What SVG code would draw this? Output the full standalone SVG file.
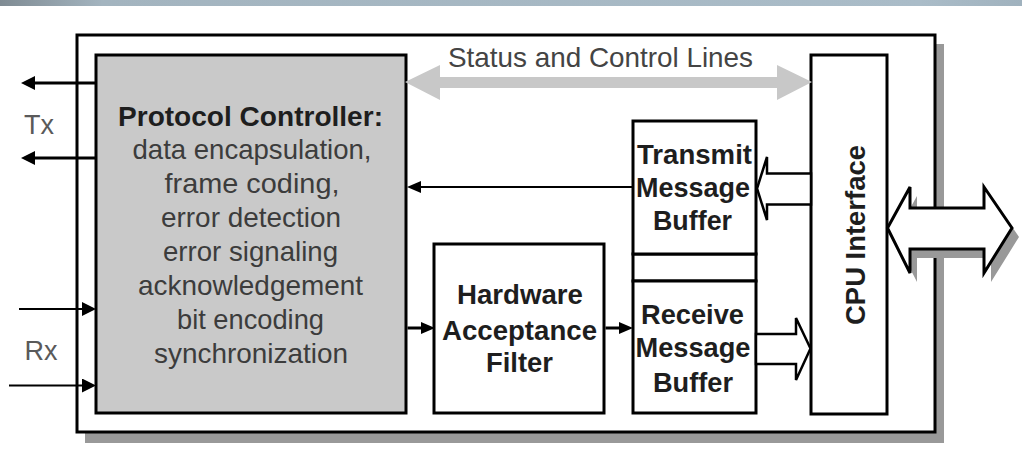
<svg xmlns="http://www.w3.org/2000/svg" width="1022" height="469" viewBox="0 0 1022 469">
  <defs>
    <linearGradient id="topbar" x1="0" y1="0" x2="1" y2="0">
      <stop offset="0" stop-color="#7f8b93"/>
      <stop offset="0.1" stop-color="#a3b4bf"/>
      <stop offset="0.9" stop-color="#aabcc8"/>
      <stop offset="1" stop-color="#a0b2be"/>
    </linearGradient>
    <marker id="headL" markerUnits="userSpaceOnUse" markerWidth="14" markerHeight="14" viewBox="0 0 14 14" refX="0" refY="7" orient="auto">
      <path d="M0,0 L14,7 L0,14 z" fill="#000"/>
    </marker>
    <marker id="headS" markerUnits="userSpaceOnUse" markerWidth="14" markerHeight="12" viewBox="0 0 14 12" refX="0" refY="6" orient="auto">
      <path d="M0,0 L14,6 L0,12 z" fill="#000"/>
    </marker>
    <style>
      .box { fill: #fff; stroke: #000; stroke-width: 3; }
      .pc { fill: #c9c9c9; stroke: #000; stroke-width: 3; }
      .shadow { fill: #999; }
      .hollow { fill: #fff; stroke: #000; stroke-width: 2.5; stroke-linejoin: miter; }
      .thick { stroke: #000; stroke-width: 3; fill: none; }
      .thin { stroke: #000; stroke-width: 2; fill: none; }
      .b { font-family: "Liberation Sans", Arial, sans-serif; font-weight: bold; font-size: 28px; fill: #1e1e1e; text-anchor: middle; }
      .r { font-family: "Liberation Sans", Arial, sans-serif; font-size: 28px; fill: #3c3c3c; text-anchor: middle; }
      .lbl { font-family: "Liberation Sans", Arial, sans-serif; font-size: 27px; fill: #5a5a5a; text-anchor: middle; }
    </style>
  </defs>

  <rect x="0" y="0" width="1022" height="6" fill="url(#topbar)"/>

  <g id="outer-frame">
    <rect x="85" y="44" width="859" height="399" class="shadow"/>
    <rect x="77" y="35" width="858" height="397" class="box"/>
  </g>

  <g id="protocol-controller">
    <rect x="96" y="55" width="310" height="358" class="pc"/>
    <text class="b" x="250.5" y="126" textLength="265" lengthAdjust="spacingAndGlyphs">Protocol Controller:</text>
    <text class="r" x="252" y="159" textLength="239" lengthAdjust="spacingAndGlyphs">data encapsulation,</text>
    <text class="r" x="252" y="193" textLength="175" lengthAdjust="spacingAndGlyphs">frame coding,</text>
    <text class="r" x="251" y="227" textLength="180" lengthAdjust="spacingAndGlyphs">error detection</text>
    <text class="r" x="250.5" y="261" textLength="175" lengthAdjust="spacingAndGlyphs">error signaling</text>
    <text class="r" x="250.5" y="295" textLength="225" lengthAdjust="spacingAndGlyphs">acknowledgement</text>
    <text class="r" x="250.5" y="329" textLength="147" lengthAdjust="spacingAndGlyphs">bit encoding</text>
    <text class="r" x="251" y="363" textLength="194" lengthAdjust="spacingAndGlyphs">synchronization</text>
  </g>

  <g id="hardware-acceptance-filter">
    <rect x="434" y="244" width="170" height="169" class="box"/>
    <text class="b" x="520" y="304" textLength="126" lengthAdjust="spacingAndGlyphs">Hardware</text>
    <text class="b" x="519.5" y="340" textLength="155" lengthAdjust="spacingAndGlyphs">Acceptance</text>
    <text class="b" x="519.5" y="372" textLength="67" lengthAdjust="spacingAndGlyphs">Filter</text>
  </g>

  <g id="buffer-spacer">
    <rect x="633" y="254" width="123" height="27" class="box"/>
  </g>

  <g id="transmit-message-buffer">
    <rect x="633" y="121" width="123" height="133" class="box"/>
    <text class="b" x="694.5" y="164" textLength="115" lengthAdjust="spacingAndGlyphs">Transmit</text>
    <text class="b" x="693" y="197" textLength="114" lengthAdjust="spacingAndGlyphs">Message</text>
    <text class="b" x="692.5" y="230" textLength="79" lengthAdjust="spacingAndGlyphs">Buffer</text>
  </g>

  <g id="receive-message-buffer">
    <rect x="633" y="281" width="123" height="132" class="box"/>
    <text class="b" x="692.5" y="324" textLength="103" lengthAdjust="spacingAndGlyphs">Receive</text>
    <text class="b" x="693" y="357" textLength="115" lengthAdjust="spacingAndGlyphs">Message</text>
    <text class="b" x="693" y="392" textLength="80" lengthAdjust="spacingAndGlyphs">Buffer</text>
  </g>

  <g id="cpu-interface">
    <rect x="811" y="55" width="76" height="359" class="box"/>
    <text class="b" transform="translate(865,235) rotate(-90)" x="0" y="0" textLength="180" lengthAdjust="spacingAndGlyphs">CPU Interface</text>
  </g>

  <g id="labels">
    <text class="lbl" x="39" y="134">Tx</text>
    <text class="lbl" x="41" y="360">Rx</text>
  </g>

  <g id="connectors">
    <!-- Tx outputs -->
    <line x1="96" y1="83" x2="35" y2="83" class="thick" marker-end="url(#headL)"/>
    <line x1="96" y1="158" x2="35" y2="158" class="thick" marker-end="url(#headL)"/>
    <!-- Rx inputs -->
    <line x1="19" y1="309" x2="82" y2="309" class="thin" marker-end="url(#headL)"/>
    <line x1="9" y1="385.5" x2="82" y2="385.5" class="thin" marker-end="url(#headL)"/>
    <!-- Protocol -> HAF -> Receive -->
    <line x1="407.5" y1="328" x2="421" y2="328" class="thick" marker-end="url(#headS)"/>
    <line x1="605.5" y1="328" x2="619" y2="328" class="thick" marker-end="url(#headS)"/>
    <!-- Transmit buffer -> Protocol -->
    <line x1="633" y1="187" x2="421" y2="187" class="thin" marker-end="url(#headS)"/>

    <!-- Status and Control Lines -->
    <g id="status-control-lines">
      <polygon points="405,82 440,65 440,77 777,77 777,65 812,82 777,100 777,88 440,88 440,100" fill="#c8c8c8"/>
      <text class="r" x="600.5" y="67" textLength="305" lengthAdjust="spacingAndGlyphs" style="fill:#444">Status and Control Lines</text>
    </g>

    <!-- CPU -> Transmit hollow arrow -->
    <polygon points="811,173.5 767,173.5 767,157 757,188.5 767,220 767,204.5 811,204.5" class="hollow"/>
    <!-- Receive -> CPU hollow arrow -->
    <polygon points="756,334 796,334 796,318 810.5,348.5 796,380 796,364 756,364" class="hollow"/>

    <!-- External bus double arrow -->
    <polygon points="894,237 917,196 917,217 991,217 991,196 1019,237 991,282 991,258 917,258 917,282" class="shadow"/>
    <polygon points="887.5,228 910,187 910,208 984,208 984,187 1012,228 984,273 984,249 910,249 910,273" fill="#fff" stroke="#000" stroke-width="3"/>
  </g>
</svg>
